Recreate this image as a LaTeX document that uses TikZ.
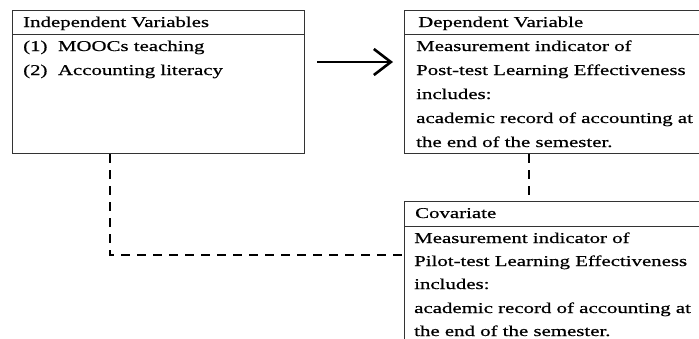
\documentclass[tikz,border=0pt]{standalone}
\usepackage{fontspec}
\setmainfont{Liberation Serif}[FakeStretch=1.39,FakeBold=0.6]
\usetikzlibrary{arrows.meta}
\begin{document}
\begin{tikzpicture}[x=1pt,y=-1pt,
  box/.style={draw=black!80,line width=1pt,rectangle,anchor=north west,inner sep=0pt},
  txt/.style={anchor=base west,inner sep=0pt,font=\fontsize{15}{18}\selectfont},
  arrowline/.style={line width=2.4pt,-{Straight Barb[length=17pt,width=26pt,line width=2.6pt]}},
  dashline/.style={line width=2pt,dash pattern=on 9pt off 7pt}]
\useasboundingbox (0,0) rectangle (699,338);
\fill[white] (0,0) rectangle (699,338);

% three boxes
\node[box,minimum width=292pt,minimum height=143pt] (indep) at (12,10) {};
\node[box,minimum width=297pt,minimum height=143pt] (dep) at (404,10) {};
\node[box,minimum width=297pt,minimum height=150pt] (cov) at (404,201) {};

% header rules
\draw[black!80,line width=1pt] (indep.west |- 0,34) -- (indep.east |- 0,34);
\draw[black!80,line width=1pt] (dep.west |- 0,34) -- (dep.east |- 0,34);
\draw[black!80,line width=1pt] (cov.west |- 0,226) -- (cov.east |- 0,226);

% independent variables
\node[txt] (i0) at (23,27) {Independent Variables};
\node[txt] (i1) at (23,51) {(1)\ \ MOOCs teaching};
\node[txt] (i2) at (23,75) {(2)\ \ Accounting literacy};

% dependent variable
\node[txt] (d0) at (418,27) {Dependent Variable};
\node[txt] (d1) at (416,51) {Measurement indicator of};
\node[txt] (d2) at (416,75) {Post-test Learning Effectiveness};
\node[txt] (d3) at (416,99) {includes:};
\node[txt] (d4) at (416,123) {academic record of accounting at};
\node[txt] (d5) at (416,147) {the end of the semester.};

% covariate
\node[txt] (c0) at (415,218) {Covariate};
\node[txt] (c1) at (414,243) {Measurement indicator of};
\node[txt] (c2) at (414,266) {Pilot-test Learning Effectiveness};
\node[txt] (c3) at (414,289) {includes:};
\node[txt] (c4) at (414,313) {academic record of accounting at};
\node[txt] (c5) at (414,336) {the end of the semester.};

% connectors
\coordinate (arrS) at (317,62);
\coordinate (arrE) at (393,62);
\draw[arrowline] (arrS) -- (arrE);
\draw[dashline] (indep.south -| 110,0) |- (cov.west |- 0,255);
\draw[dashline] (dep.south -| 529,0) -- (cov.north -| 529,0);
\end{tikzpicture}
\end{document}
